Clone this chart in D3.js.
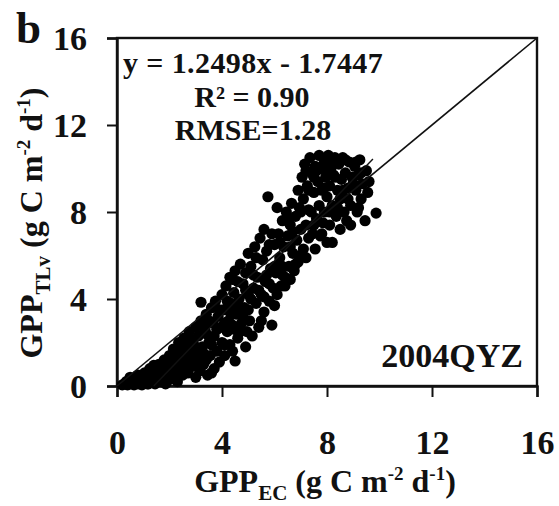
<!DOCTYPE html>
<html><head><meta charset="utf-8">
<script src="https://cdn.jsdelivr.net/npm/d3@7"></script>
<style>body{margin:0;background:#fff}svg{display:block}</style>
</head><body>
<script>
const xTicks = [0, 4, 8, 12, 16];
const yTicks = [0, 4, 8, 12, 16];
const regression = {slope: 1.2498, intercept: -1.7447, x0: 1.4, x1: 9.75};
const statsLines = ["y = 1.2498x - 1.7447", "R² = 0.90", "RMSE=1.28"];
const siteLabel = "2004QYZ";
const gppEC = [0.2,0.3,0.35,0.4,0.45,0.5,0.55,0.6,0.65,0.7,0.75,0.8,0.85,0.9,0.95,1.0,1.0,1.05,1.1,1.15,
1.2,1.25,1.3,1.35,1.4,1.45,1.5,1.55,1.6,1.65,1.7,1.75,1.8,1.85,1.9,1.95,2.0,2.0,
2.05,2.1,2.15,2.2,2.25,2.3,2.35,2.4,2.45,2.5,2.55,2.6,2.65,2.7,2.75,2.8,2.85,2.9,2.95,3.0,3.0,2.5,2.2,2.7,
3.05,3.1,3.15,3.2,3.2,3.25,3.3,3.35,3.4,3.45,3.5,3.55,3.6,3.65,3.7,3.7,3.75,3.8,3.85,3.9,3.95,4.0,4.0,3.5,3.3,
4.05,4.1,4.15,4.2,4.25,4.3,4.3,4.35,4.4,4.45,4.5,4.5,4.55,4.6,4.65,4.7,4.75,4.8,4.85,4.9,4.9,4.95,5.0,5.0,4.6,4.2,4.8,
5.05,5.1,5.15,5.2,5.25,5.3,5.35,5.4,5.45,5.5,5.55,5.6,5.6,5.65,5.7,5.75,5.8,5.85,5.9,5.9,5.95,6.0,6.0,5.3,5.5,5.7,
6.05,6.1,6.1,6.15,6.2,6.25,6.3,6.35,6.4,6.45,6.5,6.55,6.6,6.6,6.65,6.7,6.75,6.8,6.85,6.9,6.9,6.95,7.0,7.0,6.3,6.5,
7.05,7.1,7.1,7.15,7.2,7.25,7.3,7.35,7.4,7.4,7.45,7.5,7.55,7.55,7.6,7.65,7.7,7.7,7.75,7.8,7.85,7.9,7.9,7.95,8.0,8.0,7.3,7.6,7.2,
8.05,8.1,8.1,8.15,8.2,8.2,8.25,8.3,8.35,8.4,8.45,8.5,8.5,8.55,8.6,8.65,8.7,8.75,8.8,8.85,8.9,8.9,8.95,8.3,8.7,
9.05,9.1,9.15,9.2,9.25,9.3,9.35,9.45,9.5,9.55,9.6,9.87,9.2,
0.5,0.8,1.2,1.4,1.6,1.8,1.9,2.1,2.3,2.4,2.6,2.8,2.9,3.1,3.2,3.4,3.6,3.8,3.9,3.4,3.0,3.6,
4.1,4.3,4.4,4.6,4.7,4.9,5.0,4.4,5.2,5.4,5.6,5.8,5.8,6.0,6.2,6.4,6.6,6.8,6.7,7.0,7.2,7.3,7.5,7.8,
7.5,7.9,8.1,8.4,8.6,8.8,9.0,7.8,8.2,8.0,9.3,9.1,6.3,5.1,4.5,4.1,3.3,2.4,2.0,1.5,1.1];
const gppTLv = [0.05,0.1,0.2,0.05,0.25,0.1,0.3,0.15,0.05,0.35,0.2,0.1,0.45,0.25,0.05,0.4,0.15,0.6,0.3,0.1,
0.5,0.8,0.2,0.45,0.95,0.1,0.6,0.35,1.0,0.2,0.7,0.45,1.2,0.1,0.85,0.3,1.4,0.6,
1.0,0.35,1.7,0.7,1.3,0.2,2.0,0.9,1.5,0.5,2.2,1.1,1.8,0.6,2.5,1.4,0.9,2.1,1.7,0.4,2.7,1.9,1.05,1.3,
1.2,2.3,0.7,3.0,3.85,1.8,1.0,2.6,3.3,0.5,2.0,1.4,3.6,2.9,0.8,2.3,3.9,1.6,3.2,1.1,2.7,4.2,2.0,3.0,1.5,
3.5,1.4,4.6,2.5,3.0,5.0,1.9,3.8,2.8,4.3,1.15,5.3,3.3,2.2,4.0,5.6,2.9,4.7,3.6,1.8,5.2,2.5,4.2,6.1,4.8,3.9,3.2,
3.0,5.5,2.3,4.5,6.4,3.8,5.0,2.7,6.8,4.2,5.8,3.4,7.2,4.8,6.2,8.7,3.9,5.4,2.8,7.0,4.5,6.5,3.7,5.9,3.0,5.1,
5.2,8.2,4.2,7.0,5.9,4.6,7.6,6.4,5.0,8.0,6.9,5.5,4.9,7.4,8.4,6.1,5.3,7.8,6.7,9.0,5.7,8.2,7.2,6.0,5.5,7.7,
9.6,6.3,8.6,10.2,7.4,9.2,6.8,10.5,8.0,9.8,7.0,8.9,6.3,10.1,7.7,9.4,8.3,10.6,6.9,9.0,7.5,10.3,8.0,9.6,6.6,8.7,9.0,9.9,9.9,
10.6,7.4,9.2,10.0,6.6,8.3,9.7,10.5,7.8,9.0,10.2,7.2,8.6,9.5,10.5,8.0,9.8,7.6,9.1,10.3,7.4,8.3,9.6,9.6,10.4,
10.1,9.0,8.0,9.7,10.4,8.6,9.3,7.6,9.9,8.9,9.4,7.95,8.2,
0.4,0.5,0.1,0.6,0.5,0.4,0.2,0.9,1.5,0.5,0.8,2.0,1.1,1.6,0.9,2.4,1.9,2.6,3.5,1.2,1.8,0.6,
2.9,3.4,1.6,3.7,2.5,4.4,3.5,4.9,5.1,4.4,4.1,4.7,6.5,5.5,6.6,4.6,6.4,5.6,7.1,8.0,5.9,8.1,7.4,7.0,
9.6,9.1,8.0,8.2,9.0,8.6,9.3,10.0,10.4,9.9,9.8,10.3,5.1,4.0,2.6,1.9,2.8,1.8,0.9,0.3,0.5];

const W = 559, H = 506;
const FONT = "Tinos";
const svg = d3.select("body").append("svg").attr("width", W).attr("height", H)
  .attr("font-family", FONT).attr("font-weight", "bold");
const x = d3.scaleLinear().domain([0, 16]).range([117, 537]);
const y = d3.scaleLinear().domain([0, 16]).range([386, 38]);
function txt(sel) { return sel.style("font-family", FONT).style("font-weight", "bold").attr("fill", "#111"); }

svg.append("rect").attr("x", x(0)).attr("y", y(16)).attr("width", x(16)-x(0)).attr("height", y(0)-y(16))
  .attr("fill", "none").attr("stroke", "#111").attr("stroke-width", 2.4);

const xAxis = svg.append("g").attr("transform", `translate(0,${y(0)})`)
  .call(d3.axisBottom(x).tickValues(xTicks).tickSize(11).tickPadding(33).tickFormat(d3.format("d")));
const yAxis = svg.append("g").attr("transform", `translate(${x(0)},0)`)
  .call(d3.axisLeft(y).tickValues(yTicks).tickSize(10).tickPadding(20).tickFormat(d3.format("d")));
[xAxis, yAxis].forEach(g => {
  g.attr("font-family", FONT).attr("font-size", 34);
  g.select(".domain").attr("stroke", "#111").attr("stroke-width", 2.4);
  g.selectAll(".tick line").attr("stroke", "#111").attr("stroke-width", 2);
  txt(g.selectAll(".tick text")).attr("font-size", 34);
});
yAxis.selectAll(".tick text").attr("dy", "0.34em");

svg.append("g").selectAll("circle").data(gppEC).join("circle")
  .attr("cx", d => x(d)).attr("cy", (d, i) => y(gppTLv[i])).attr("r", 5.6).attr("fill", "#000");

svg.append("line").attr("x1", x(0)).attr("y1", y(0)).attr("x2", x(16)).attr("y2", y(16))
  .attr("stroke", "#111").attr("stroke-width", 1.6);
svg.append("line")
  .attr("x1", x(regression.x0)).attr("y1", y(regression.slope*regression.x0 + regression.intercept))
  .attr("x2", x(regression.x1)).attr("y2", y(regression.slope*regression.x1 + regression.intercept))
  .attr("stroke", "#111").attr("stroke-width", 1.4);

txt(svg.append("text")).attr("x", 123).attr("y", 73).attr("font-size", 30).attr("letter-spacing", 0.4).text(statsLines[0]);
txt(svg.append("text")).attr("x", 252).attr("y", 107).attr("text-anchor", "middle").attr("font-size", 30).text(statsLines[1]);
txt(svg.append("text")).attr("x", 253).attr("y", 140).attr("text-anchor", "middle").attr("font-size", 30).text(statsLines[2]);
txt(svg.append("text")).attr("x", 523).attr("y", 367).attr("text-anchor", "end").attr("font-size", 34).text(siteLabel);
txt(svg.append("text")).attr("x", 16).attr("y", 43).attr("font-size", 45).text("b");

function axisLabel(sel, main, sub) {
  sel.append("tspan").text(main);
  sel.append("tspan").attr("font-size", 21).attr("dy", 8).text(sub);
  sel.append("tspan").attr("dy", -8).text(" (g C m");
  sel.append("tspan").attr("font-size", 19).attr("dy", -12).text("-2");
  sel.append("tspan").attr("dy", 12).text(" d");
  sel.append("tspan").attr("font-size", 19).attr("dy", -12).text("-1");
  sel.append("tspan").attr("dy", 12).text(")");
}
const xl = txt(svg.append("text")).attr("x", 325).attr("y", 492).attr("text-anchor", "middle").attr("font-size", 32);
axisLabel(xl, "GPP", "EC");
const yl = txt(svg.append("text")).attr("transform", "translate(42,223) rotate(-90)").attr("text-anchor", "middle").attr("font-size", 32);
axisLabel(yl, "GPP", "TLv");
</script>
</body></html>
